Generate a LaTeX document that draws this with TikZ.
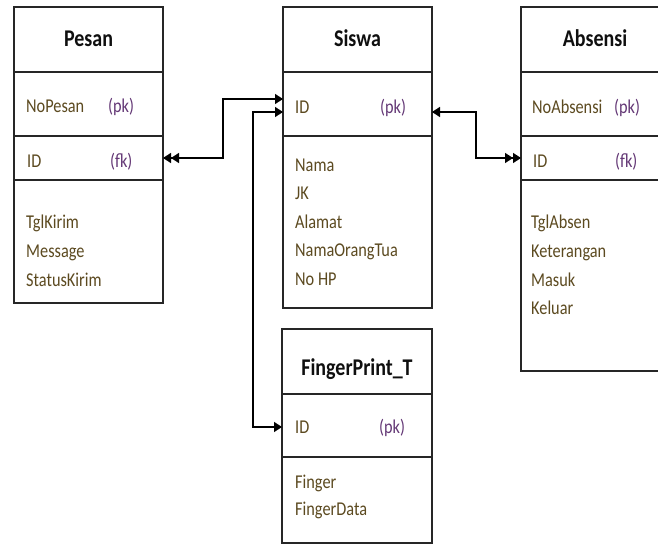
\documentclass[tikz,border=0pt]{standalone}
\usepackage{fontspec}
\usepackage{graphicx}
\setmainfont{Carlito}
\usetikzlibrary{arrows.meta}

\definecolor{attrcol}{RGB}{92,74,32}
\definecolor{keycol}{RGB}{100,56,118}
\definecolor{titlecol}{RGB}{15,15,15}

% text set slightly taller than wide
\newcommand\tall[1]{\scalebox{1}[1.2]{#1}}

\tikzset{
  cell/.style={draw=black!85, line width=1.2pt, minimum width=149pt, inner sep=0pt,
               anchor=north west, outer sep=0pt},
  title/.style={anchor=base, font=\fontsize{20}{24}\selectfont\bfseries, text=titlecol, inner sep=0pt},
  attr/.style={anchor=base west, font=\fontsize{16.3}{19}\selectfont, text=attrcol, inner sep=0pt},
  keytag/.style={anchor=base west, font=\fontsize{16.3}{19}\selectfont, text=keycol, inner sep=0pt},
  link/.style={line width=1.4pt, draw=black},
  tip/.tip={Triangle[length=8pt,width=10pt]},
  dtip/.tip={Triangle[length=8pt,width=10pt]Triangle[length=8pt,width=10pt]},
}

\begin{document}
\begin{tikzpicture}[x=1pt,y=-1pt]
\useasboundingbox (0,0) rectangle (658,545);
\clip (0,0) rectangle (658,545);
\fill[white] (0,0) rectangle (658,545);

% ---------------- Pesan ----------------
\node[cell, minimum height=65pt]  (pesanH)  at (14,7)   {};
\node[cell, minimum height=64pt]  (pesanPK) at (14,72)  {};
\node[cell, minimum height=44pt]  (pesanFK) at (14,136) {};
\node[cell, minimum height=123pt] (pesanB)  at (14,180) {};
\node[title] (tPesan) at (88.5,47) {\tall{Pesan}};
\node[attr]   (a1) at (26,113)  {\tall{NoPesan}};
\node[keytag] (k1) at (108,113) {\tall{(pk)}};
\node[attr]   (a2) at (27,168)  {\tall{ID}};
\node[keytag] (k2) at (110,168) {\tall{(fk)}};
\node[attr]   (a3) at (26,229)  {\tall{TglKirim}};
\node[attr]   (a4) at (26,258)  {\tall{Message}};
\node[attr]   (a5) at (26,286)  {\tall{StatusKirim}};

% ---------------- Siswa ----------------
\node[cell, minimum height=65pt]  (siswaH)  at (283,7)   {};
\node[cell, minimum height=64pt]  (siswaPK) at (283,72)  {};
\node[cell, minimum height=172pt] (siswaB)  at (283,136) {};
\node[title] (tSiswa) at (357.5,47) {\tall{Siswa}};
\node[attr]   (b1) at (295,114) {\tall{ID}};
\node[keytag] (k3) at (380,114) {\tall{(pk)}};
\node[attr]   (b2) at (295,171.5) {\tall{Nama}};
\node[attr]   (b3) at (295,200)   {\tall{JK}};
\node[attr]   (b4) at (295,228.5) {\tall{Alamat}};
\node[attr]   (b5) at (295,257)   {\tall{NamaOrangTua}};
\node[attr]   (b6) at (295,285.5) {\tall{No HP}};

% ---------------- Absensi ----------------
\node[cell, minimum height=65pt]  (absH)  at (521,7)   {};
\node[cell, minimum height=64pt]  (absPK) at (521,72)  {};
\node[cell, minimum height=44pt]  (absFK) at (521,136) {};
\node[cell, minimum height=191pt] (absB)  at (521,180) {};
\node[title] (tAbs) at (595,47) {\tall{Absensi}};
\node[attr]   (c1) at (532,114) {\tall{NoAbsensi}};
\node[keytag] (k4) at (614,114) {\tall{(pk)}};
\node[attr]   (c2) at (533,168) {\tall{ID}};
\node[keytag] (k5) at (615,168) {\tall{(fk)}};
\node[attr]   (c3) at (531,229) {\tall{TglAbsen}};
\node[attr]   (c4) at (531,258) {\tall{Keterangan}};
\node[attr]   (c5) at (531,286) {\tall{Masuk}};
\node[attr]   (c6) at (531,314) {\tall{Keluar}};

% ---------------- FingerPrint_T ----------------
\node[cell, minimum width=150pt, minimum height=65pt] (fpH)  at (282,329) {};
\node[cell, minimum width=150pt, minimum height=63pt] (fpPK) at (282,394) {};
\node[cell, minimum width=150pt, minimum height=86pt] (fpB)  at (282,457) {};
\node[title] (tFp) at (357,375) {\tall{FingerPrint\_T}};
\node[attr]   (d1) at (295,433) {\tall{ID}};
\node[keytag] (k6) at (379,433) {\tall{(pk)}};
\node[attr]   (d2) at (295,488) {\tall{Finger}};
\node[attr]   (d3) at (295,515) {\tall{FingerData}};

% ---------------- relations ----------------
% Siswa.ID  <->>  Pesan.ID
\draw[link, {tip}-{dtip}] ([yshift=5pt]siswaPK.west) -| (223,130) |- (pesanFK.east);
% Siswa.ID  <->  FingerPrint_T.ID
\draw[link, {tip}-{tip}] ([yshift=-8pt]siswaPK.west) -| (253,300) |- ([yshift=-1.5pt]fpPK.west);
% Siswa.ID  <->>  Absensi.ID
\draw[link, {tip}-{dtip}] ([yshift=-8pt]siswaPK.east) -| (476,130) |- (absFK.west);
\end{tikzpicture}
\end{document}
